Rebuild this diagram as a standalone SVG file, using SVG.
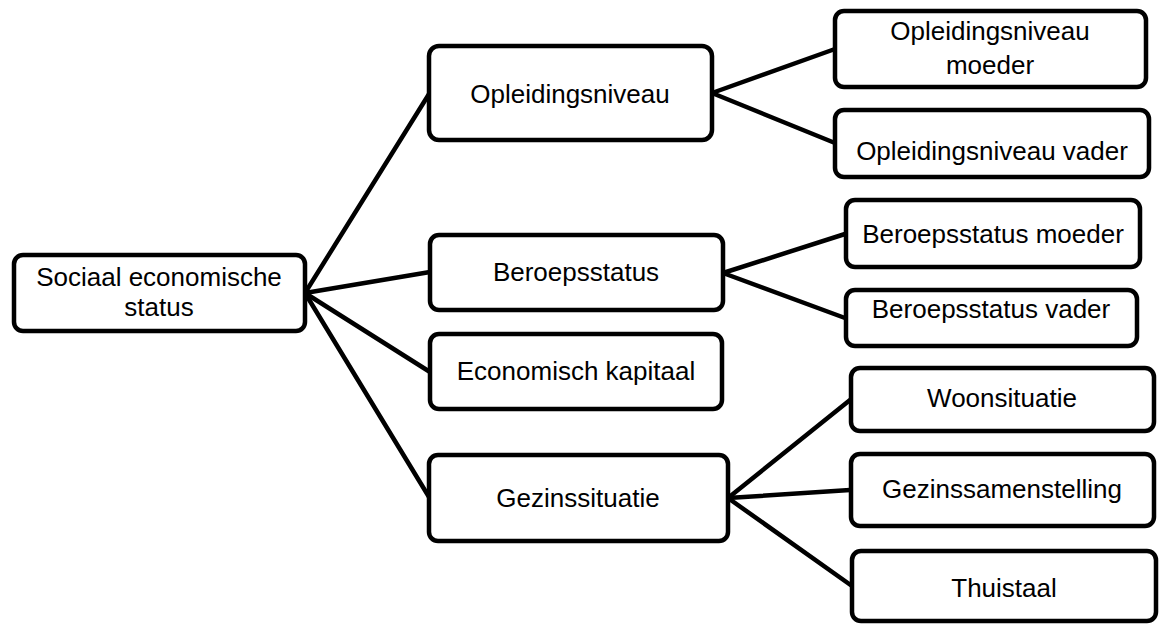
<svg xmlns="http://www.w3.org/2000/svg" width="1160" height="626" viewBox="0 0 1160 626">
<style>
.box{fill:#fff;stroke:#000;stroke-width:4.5}
.lbl{font-family:"Liberation Sans",Arial,sans-serif;font-size:26px;fill:#000;text-anchor:middle}
.conn line{stroke:#000;stroke-width:4.5;stroke-linecap:round}
</style>
<rect width="1160" height="626" fill="#fff"/>
<g class="conn" id="connectors">
<line x1="305" y1="293" x2="429" y2="94"/>
<line x1="305" y1="293" x2="430" y2="272"/>
<line x1="305" y1="293" x2="430" y2="372"/>
<line x1="305" y1="293" x2="429" y2="497"/>
<line x1="712" y1="93" x2="835" y2="49"/>
<line x1="712" y1="93" x2="835" y2="143"/>
<line x1="723" y1="273" x2="845" y2="234"/>
<line x1="723" y1="273" x2="845" y2="318"/>
<line x1="728" y1="498" x2="850" y2="400"/>
<line x1="728" y1="498" x2="850" y2="490"/>
<line x1="728" y1="498" x2="852" y2="586"/>
</g>
<g id="n-root"><rect class="box" x="14" y="255" width="291" height="76" rx="9"/><text class="lbl" x="159" y="286">Sociaal economische</text><text class="lbl" x="159" y="316">status</text></g>
<g id="n-opl"><rect class="box" x="429" y="46" width="283" height="94" rx="10"/><text class="lbl" x="570" y="103">Opleidingsniveau</text></g>
<g id="n-ber"><rect class="box" x="430" y="235" width="293" height="75" rx="9"/><text class="lbl" x="576" y="281">Beroepsstatus</text></g>
<g id="n-eco"><rect class="box" x="430" y="334" width="292" height="75" rx="9"/><text class="lbl" x="576" y="380">Economisch kapitaal</text></g>
<g id="n-gez"><rect class="box" x="429" y="455" width="299" height="86" rx="9"/><text class="lbl" x="578" y="507">Gezinssituatie</text></g>
<g id="n-oplm"><rect class="box" x="835" y="11" width="311" height="76" rx="9"/><text class="lbl" x="990" y="40">Opleidingsniveau</text><text class="lbl" x="990" y="74">moeder</text></g>
<g id="n-oplv"><rect class="box" x="835" y="110" width="314" height="67" rx="9"/><text class="lbl" x="992" y="160">Opleidingsniveau vader</text></g>
<g id="n-berm"><rect class="box" x="846" y="200" width="294" height="67" rx="9"/><text class="lbl" x="993" y="243">Beroepsstatus moeder</text></g>
<g id="n-berv"><rect class="box" x="846" y="290" width="291" height="56" rx="9"/><text class="lbl" x="991" y="318">Beroepsstatus vader</text></g>
<g id="n-woon"><rect class="box" x="851" y="368" width="303" height="63" rx="9"/><text class="lbl" x="1002" y="407">Woonsituatie</text></g>
<g id="n-samen"><rect class="box" x="851" y="454" width="303" height="72" rx="9"/><text class="lbl" x="1002" y="498">Gezinssamenstelling</text></g>
<g id="n-thuis"><rect class="box" x="852" y="551" width="304" height="70" rx="9"/><text class="lbl" x="1004" y="597">Thuistaal</text></g>
</svg>
